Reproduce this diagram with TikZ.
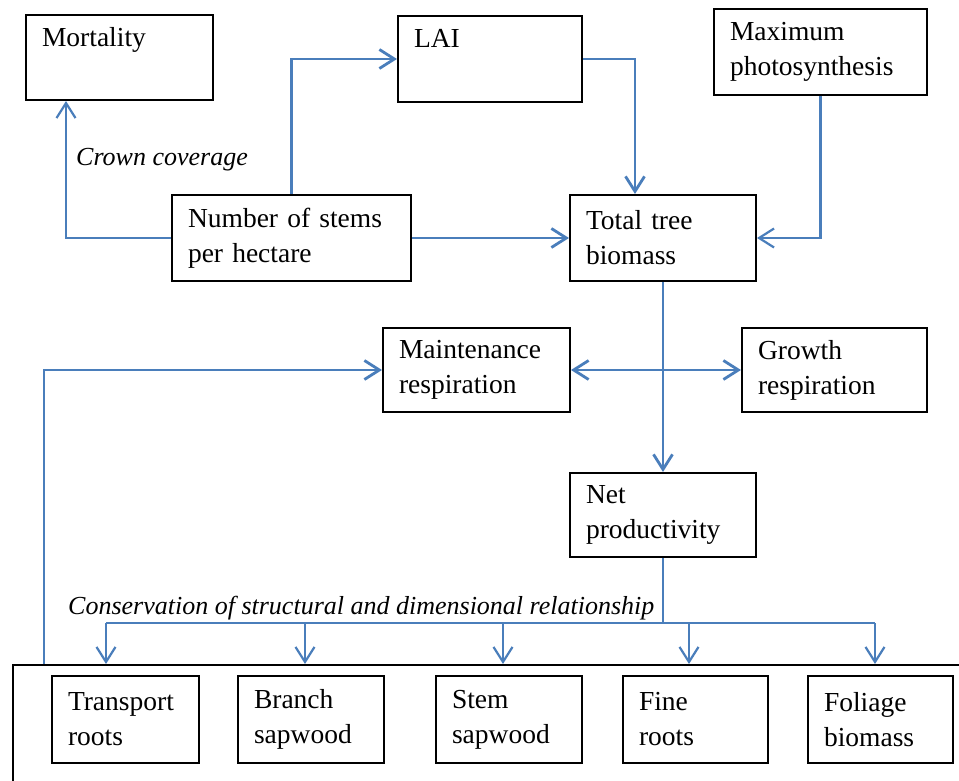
\documentclass[tikz,border=0pt]{standalone}
\usepackage{fontspec}
\setmainfont{Liberation Serif}
\newfontfamily\tnr{Liberation Serif}
\usetikzlibrary{arrows.meta}
\definecolor{lnblue}{HTML}{4A7EBB}
\begin{document}
\begin{tikzpicture}[x=1pt,y=-1pt,
  box/.style={draw=black, line width=2pt, inner xsep=16pt, inner ysep=0pt, align=left,
              font=\tnr\fontsize{27.5}{35}\selectfont},
  arr/.style={draw=lnblue, line width=2.8pt, -{Straight Barb[length=15pt,width=19pt]}},
  tarr/.style={draw=lnblue, line width=2.2pt, -{Straight Barb[length=15pt,width=19pt]}},
  ln/.style={draw=lnblue, line width=2.2pt},
  lab/.style={font=\tnr\fontsize{26}{30}\selectfont\itshape, inner sep=0pt}]
\useasboundingbox (0,0) rectangle (959,781);
\fill[white] (0,0) rectangle (959,781);

% container (partly outside the picture)
\node[draw=black, line width=2pt, minimum width=1000pt, minimum height=200pt,
      anchor=north west, inner sep=0pt] (group) at (12,664) {};

% boxes
\node[box, minimum width=187pt, text width=155pt, minimum height=85pt] (mort) at (119.5,57.5) {Mortality\\\vphantom{Mp}};
\node[box, minimum width=184pt, text width=152pt, minimum height=86pt] (lai) at (490,59) {LAI\\\vphantom{Mp}};
\node[box, minimum width=213pt, text width=181pt, minimum height=86pt] (maxps) at (820.5,52) {Maximum\\photosynthesis};
\node[box, minimum width=239pt, text width=207pt, minimum height=86pt] (num) at (291.5,238) {Number of stems\\per hectare};
\node[box, minimum width=186pt, text width=154pt, minimum height=86pt] (total) at (663,238) {Total tree\\biomass};
\node[box, minimum width=187pt, text width=155pt, minimum height=84pt] (maint) at (476.5,370) {Maintenance\\respiration};
\node[box, minimum width=185pt, text width=153pt, minimum height=84pt] (growth) at (834.5,370) {Growth\\respiration};
\node[box, minimum width=186pt, text width=154pt, minimum height=84pt] (net) at (663,515) {Net\\productivity};

\node[box, minimum width=147pt, text width=115pt, minimum height=87pt] (tr) at (125.5,719.5) {Transport\\roots};
\node[box, minimum width=146pt, text width=114pt, minimum height=87pt] (bs) at (311,719.5) {Branch\\sapwood};
\node[box, minimum width=146pt, text width=114pt, minimum height=87pt] (ss) at (509,719.5) {Stem\\sapwood};
\node[box, minimum width=145pt, text width=113pt, minimum height=87pt] (fr) at (695.5,719.5) {Fine\\roots};
\node[box, minimum width=145pt, text width=113pt, minimum height=87pt] (fb) at (880.5,719.5) {Foliage\\biomass};

% labels
\node[lab, anchor=base west] (crown) at (76,166) {Crown coverage};
\node[lab, anchor=base west] (cons) at (68,614) {Conservation of structural and dimensional relationship};

% connectors
\draw[tarr] (num.west) -| ([xshift=41pt]mort.south west);
\draw[arr] (num.north) |- (lai.west);
\draw[arr] (lai.east) -| ([xshift=-28pt]total.north);
\draw[arr] (num.east) -- (total.west);
\draw[tarr] (maxps.south) |- (total.east);
\draw[arr] (total.south) -- (net.north);
\draw[arr, {Straight Barb[length=15pt,width=19pt]}-{Straight Barb[length=15pt,width=19pt]}] (maint.east) -- (growth.west);
\draw[arr] ([xshift=32pt]group.north west) |- (maint.west);

% distribution
\coordinate (split) at (663,623);
\coordinate (d1) at ([xshift=-19.5pt]tr.north);
\coordinate (d2) at ([xshift=-6pt]bs.north);
\coordinate (d3) at ([xshift=-6pt]ss.north);
\coordinate (d4) at ([xshift=-6.5pt]fr.north);
\coordinate (d5) at ([xshift=-5.5pt]fb.north);
\draw[ln] (net.south) -- (split);
\draw[ln] (d1 |- split) -- (d5 |- split);
\foreach \d in {d1,d2,d3,d4,d5}
  \draw[tarr] (\d |- split) -- (\d |- group.north);
\end{tikzpicture}
\end{document}
